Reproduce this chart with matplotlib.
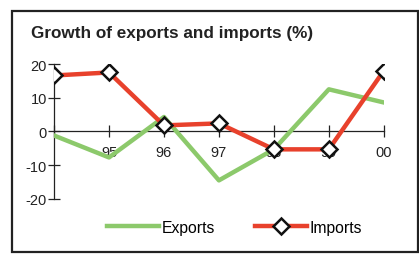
import matplotlib
matplotlib.use("Agg")
import matplotlib.pyplot as plt
from matplotlib.patches import Rectangle

plt.rcParams["font.family"] = ["Liberation Sans", "DejaVu Sans"]
plt.rcParams["axes.unicode_minus"] = False

years = ["94", "95", "96", "97", "98", "99", "00"]
tick_labels = ["", "95", "96", "97", "98", "99", "00"]
exports = [-1.2, -7.7, 4.3, -14.5, -5.3, 12.5, 8.6]
imports = [16.6, 17.5, 1.8, 2.4, -5.3, -5.3, 18.0]

GREEN = "#8cc96b"
RED = "#e8412c"
INK = "#222222"

fig = plt.figure(figsize=(4.19, 2.55), dpi=100)
ax = fig.add_axes([0.129, 0.216, 0.787, 0.529])

x = list(range(len(years)))
ax.plot(x, exports, color=GREEN, linewidth=3.2, label="Exports", zorder=3)
ax.plot(x, imports, color=RED, linewidth=3.2, label="Imports", marker="D", markersize=8,
        markerfacecolor="white", markeredgecolor="#111111", markeredgewidth=1.8, zorder=4)

ax.set_xlim(0, 6)
ax.set_ylim(-20, 20)
ax.set_yticks([-20, -10, 0, 10, 20])
ax.set_xticks(x)
ax.set_xticklabels(tick_labels)

for side in ["top", "right"]:
    ax.spines[side].set_visible(False)
ax.spines["bottom"].set_position(("data", 0))
for side in ["left", "bottom"]:
    ax.spines[side].set_linewidth(0.9)
    ax.spines[side].set_color(INK)
    ax.spines[side].set_zorder(2)

ax.tick_params(axis="y", direction="inout", length=8, width=0.9, labelsize=10.5, pad=1, colors=INK)
ax.tick_params(axis="x", direction="inout", length=8, width=0.9, labelsize=10.5, pad=6, colors=INK)

fig.text(0.074, 0.85, "Growth of exports and imports (%)", fontsize=12.3, fontweight="bold", color=INK)

fig.legend(loc="center", bbox_to_anchor=(0.56, 0.105), ncol=2, frameon=False, fontsize=11.3,
           handlelength=3.3, handletextpad=0.15, columnspacing=2.6, borderpad=0)

fig.patches.append(Rectangle((0.029, 0.006), 0.969, 0.947, transform=fig.transFigure,
                             fill=False, edgecolor=INK, linewidth=1.6))

fig.savefig("out.png", dpi=100)
